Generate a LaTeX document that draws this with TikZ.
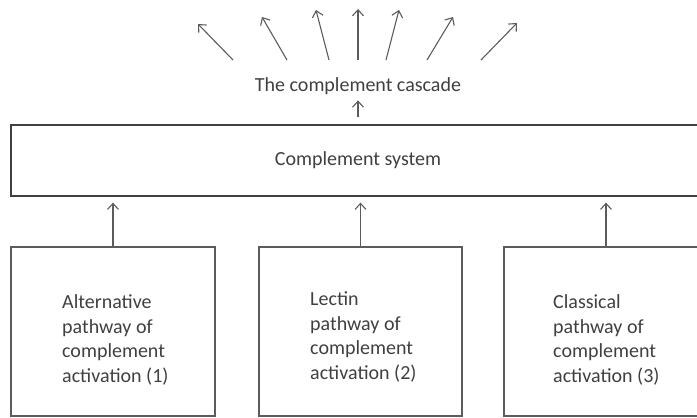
\documentclass[tikz,border=0pt]{standalone}
\usepackage{fontspec}
\setmainfont{Carlito}
\usepackage{tikz}
\usepackage{xcolor}
\usetikzlibrary{arrows.meta}
\definecolor{linescolor}{rgb}{0.36,0.36,0.36}
\definecolor{textcolor}{rgb}{0.25,0.25,0.25}
\tikzset{
	box/.style={draw=linescolor,line width=1.3pt,rectangle,inner sep=0pt},
	uparrow/.style={draw=linescolor,line width=1.1pt,-{Straight Barb[length=6pt,width=11pt]}},
	pathtext/.style={textcolor,align=left,inner sep=0pt}
}
\begin{document}
\begin{tikzpicture}[x=1pt,y=1pt,yscale=-1]

\newcommand{\diagfont}{\fontsize{20}{24.5}\selectfont}

\clip (0,0) rectangle (697,418);

% complement system
\node [box,minimum width=694pt,minimum height=71pt,textcolor,font=\diagfont] (system) at (358,160.5) {Complement system};

% the cascade above it
\node [textcolor,font=\diagfont,anchor=base,inner sep=0pt] (cascade) at (358,91) {The complement cascade};
\draw [uparrow,shorten <=7pt,shorten >=6pt] (system.north) -- (cascade.south);

% fan of arrows
\foreach \tx/\hx/\hy [count=\i] in {233/198/24, 287/262/17, 329/316/10, 358/358/9, 386/399/10, 427/453/17, 481/517/23} {
	\coordinate (tail\i) at (\tx,60);
	\coordinate (head\i) at (\hx,\hy);
	\draw [uparrow] (tail\i) -- (head\i);
}

% pathways
\node [box,minimum width=204pt,minimum height=169pt] (alternative) at (113,331.5) {};
\node [pathtext,font=\diagfont,anchor=west] (alternativetext) at (62,340) {Alternative\\pathway of\\complement\\activation (1)};

\node [box,minimum width=203pt,minimum height=169pt] (lectin) at (360.5,331.5) {};
\node [pathtext,font=\diagfont,anchor=west] (lectintext) at (310,337) {Lectin\\pathway of\\complement\\activation (2)};

\node [box,minimum width=204pt,minimum height=169pt] (classical) at (606,331.5) {};
\node [pathtext,font=\diagfont,anchor=west] (classicaltext) at (553,340) {Classical\\pathway of\\complement\\activation (3)};

% arrows into the system
\draw [uparrow,shorten >=6pt] (alternative.north) -- (alternative.north |- system.south);
\draw [uparrow,shorten >=6pt] (lectin.north) -- (lectin.north |- system.south);
\draw [uparrow,shorten >=6pt] (classical.north) -- (classical.north |- system.south);

\end{tikzpicture}
\end{document}
